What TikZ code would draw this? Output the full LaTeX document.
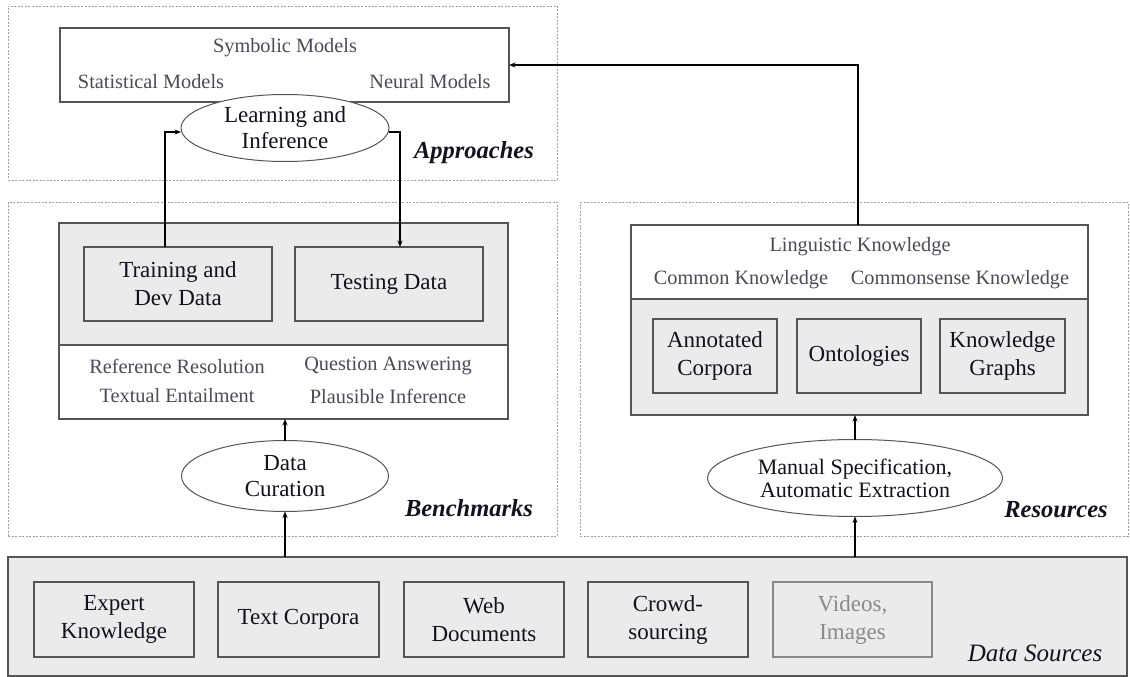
\documentclass[tikz,border=0pt]{standalone}
\usepackage{fontspec}
\setmainfont{Liberation Serif}
\usetikzlibrary{arrows.meta,shapes.geometric}
\definecolor{panelgray}{HTML}{EBEBEB}
\definecolor{boxline}{HTML}{555555}
\definecolor{groupline}{HTML}{A0A0A0}
\definecolor{labeltext}{HTML}{12121E}
\definecolor{topictext}{HTML}{4A4A58}
\definecolor{fadedtext}{HTML}{8A8A8A}
\begin{document}
\begin{tikzpicture}[x=1pt,y=-1pt,
  group/.style={draw=groupline, line width=0.8pt, dash pattern=on 2pt off 1.5pt,
    inner sep=0pt, outer sep=0pt},
  panel/.style={draw=boxline, line width=1.2pt, inner sep=0pt, outer sep=0pt},
  itembox/.style={draw=boxline, fill=panelgray, line width=1.2pt, inner sep=0pt,
    outer sep=0pt, align=center, text=labeltext,
    font=\fontsize{23}{28}\selectfont},
  oval/.style={ellipse, draw=boxline, fill=white, line width=1pt, inner sep=0pt,
    outer sep=0pt, align=center, text=labeltext,
    font=\fontsize{23}{26}\selectfont},
  topic/.style={text=topictext, font=\fontsize{20.3}{22}\selectfont, inner sep=0pt},
  grouptitle/.style={text=labeltext, font=\fontsize{24.5}{26}\selectfont\bfseries\itshape, inner sep=0pt},
  arr/.style={draw=black, line width=1.1pt, -{Stealth[length=6.5pt,width=5pt]}}
]
\useasboundingbox (0,0) rectangle (1130,677);

% ---- Approaches ----
\node[group, minimum width=549, minimum height=174] (appr) at (282.5,93) {};
\node[grouptitle] (apprlbl) at (474,153) {Approaches};
\node[panel, fill=white, minimum width=449, minimum height=74] (models) at (284.5,65) {};
\node[topic] (symb) at (285,48) {Symbolic Models};
\node[topic] (stat) at (151,82) {Statistical Models};
\node[topic] (neur) at (430,82) {Neural Models};
\node[oval, minimum width=208, minimum height=67] (learn) at (285,128) {Learning and\\Inference};

% ---- Benchmarks ----
\node[group, minimum width=549, minimum height=334] (bench) at (282.5,369) {};
\node[grouptitle] (benchlbl) at (469,508) {Benchmarks};
\node[panel, fill=panelgray, minimum width=449, minimum height=122] (benchtop) at (283.5,284) {};
\node[panel, fill=white, minimum width=449, minimum height=74] (benchbot) at (283.5,382) {};
\node[itembox, minimum width=188, minimum height=74] (train) at (178,284) {Training and\\Dev Data};
\node[itembox, minimum width=188, minimum height=74] (test) at (389,284) {Testing Data};
\node[topic] (refres) at (177,366) {Reference Resolution};
\node[topic] (qa) at (388,366) {Question Answering};
\node[topic] (te) at (177,396) {Textual Entailment};
\node[topic] (pi) at (388,396) {Plausible Inference};
\node[oval, minimum width=207, minimum height=71] (cur) at (285,476) {Data\\Curation};

% ---- Resources ----
\node[group, minimum width=548, minimum height=334] (res) at (854,369) {};
\node[grouptitle] (reslbl) at (1056,510) {Resources};
\node[panel, fill=white, minimum width=457, minimum height=74] (restop) at (859.5,262) {};
\node[panel, fill=panelgray, minimum width=457, minimum height=116] (resbot) at (859.5,357) {};
\node[topic] (ling) at (860,247) {Linguistic Knowledge};
\node[topic] (common) at (741,280) {Common Knowledge};
\node[topic] (csk) at (960,280) {Commonsense Knowledge};
\node[itembox, minimum width=124, minimum height=74] (annot) at (715,356) {Annotated\\Corpora};
\node[itembox, minimum width=124, minimum height=74] (onto) at (859,356) {Ontologies};
\node[itembox, minimum width=125, minimum height=74] (kg) at (1002.5,356) {Knowledge\\Graphs};
\node[oval, minimum width=295, minimum height=77, font=\fontsize{22}{23}\selectfont] (manual) at (855,478)
  {Manual Specification,\\Automatic Extraction};

% ---- Data Sources ----
\node[panel, fill=panelgray, minimum width=1119, minimum height=119] (src) at (567.5,616.5) {};
\node[text=labeltext, font=\fontsize{25}{27}\selectfont\itshape, inner sep=0pt] (srclbl) at (1035,653) {Data Sources};
\node[itembox, minimum width=160, minimum height=75] (expert) at (114,619.5) {Expert\\Knowledge};
\node[itembox, minimum width=161, minimum height=75] (corp) at (298.5,619.5) {Text Corpora};
\node[itembox, minimum width=160, minimum height=75] (web) at (484,619.5) {Web\\Documents};
\node[itembox, minimum width=160, minimum height=75] (crowd) at (668,619.5) {Crowd-\\sourcing};
\node[itembox, draw=boxline!70, text=fadedtext, minimum width=159, minimum height=75] (video) at (852.5,619.5) {Videos,\\Images};

% ---- Connectors ----
\draw[arr] ([xshift=-13pt]train.north) |- ([yshift=-4pt]learn.west);
\draw[arr] ([yshift=-4pt]learn.east) -| ([xshift=11pt]test.north);
\draw[arr] (cur.north) -- (cur.north |- benchbot.south);
\draw[arr] (cur.south |- src.north) -- (cur.south);
\draw[arr] (manual.north) -- (manual.north |- resbot.south);
\draw[arr] (manual.south |- src.north) -- (manual.south);
\draw[arr] ([xshift=-1.5pt]restop.north) |- (models.east);
\end{tikzpicture}
\end{document}
